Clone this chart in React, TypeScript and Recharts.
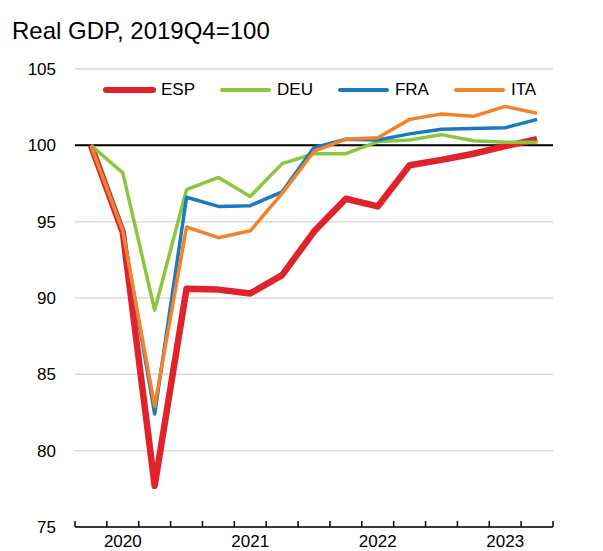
import React from 'react';
import { LineChart, Line, XAxis, YAxis, CartesianGrid, ReferenceLine } from 'recharts';

// quarterly real GDP, index 2019Q4 = 100
const quarters = [
  '2019Q4', '2020Q1', '2020Q2', '2020Q3', '2020Q4',
  '2021Q1', '2021Q2', '2021Q3', '2021Q4',
  '2022Q1', '2022Q2', '2022Q3', '2022Q4',
  '2023Q1', '2023Q2',
];
const esp = [100, 94.3, 77.7, 90.6, 90.55, 90.3, 91.5, 94.35, 96.5, 96.0, 98.7, 99.05, 99.45, 99.95, 100.4];
const deu = [100, 98.2, 89.2, 97.1, 97.9, 96.65, 98.8, 99.45, 99.45, 100.25, 100.35, 100.7, 100.3, 100.2, 100.2];
const fra = [100, 94.5, 82.4, 96.6, 96.0, 96.05, 96.95, 99.85, 100.4, 100.35, 100.75, 101.05, 101.1, 101.15, 101.7];
const ita = [100, 94.4, 82.9, 94.65, 93.95, 94.4, 96.85, 99.6, 100.4, 100.5, 101.7, 102.05, 101.9, 102.55, 102.1];
const yTicks = [75, 80, 85, 90, 95, 100, 105];

const series = [
  { key: 'ESP', values: esp, color: '#e0232b', width: 6.5 },
  { key: 'DEU', values: deu, color: '#8cc63f', width: 3.5 },
  { key: 'FRA', values: fra, color: '#1a7abf', width: 3.5 },
  { key: 'ITA', values: ita, color: '#f5822a', width: 3.5 },
];

const font = '"Liberation Sans", Arial, sans-serif';

const data = quarters.map((q, i) => {
  const row: any = { idx: i, q };
  series.forEach(s => { row[s.key] = s.values[i]; });
  return row;
});

// quarter boundaries get the small ticks, Q1 gets the year label
const boundaryTicks = [...quarters.map((_, i) => i - 0.5), quarters.length - 0.5];
const yearTicks = quarters.map((q, i) => (q.endsWith('Q1') ? i : -1)).filter(i => i >= 0);
const xDomain = [-0.5, quarters.length - 0.5];

const tickStyle = { fontSize: 17, fill: '#000', fontFamily: font };

export default function App() {
  return (
    <div style={{ position: 'absolute', left: 0, top: 0, width: 603, height: 551, background: '#fff', fontFamily: font }}>
      <div style={{ position: 'absolute', left: 12, top: 19, fontSize: 24, lineHeight: 1, color: '#000' }}>
        Real GDP, 2019Q4=100
      </div>
      <LineChart width={603} height={551} data={data} margin={{ top: 69, right: 0, bottom: 0, left: 0 }}>
        <CartesianGrid vertical={false} stroke="#d9d9d9" strokeWidth={1.5} yAxisId="left" />
        <XAxis
          xAxisId="q"
          dataKey="idx"
          type="number"
          domain={xDomain}
          ticks={boundaryTicks}
          tickFormatter={() => ''}
          tickSize={-6}
          height={1}
          axisLine={{ stroke: '#000', strokeWidth: 1.5 }}
          tickLine={{ stroke: '#000', strokeWidth: 1.5 }}
          interval={0}
        />
        <XAxis
          xAxisId="years"
          dataKey="idx"
          type="number"
          domain={xDomain}
          ticks={yearTicks}
          tickFormatter={(i: number) => quarters[i].slice(0, 4)}
          axisLine={false}
          tickLine={false}
          tickSize={0}
          tickMargin={7}
          height={23}
          tick={tickStyle}
          interval={0}
        />
        <YAxis
          yAxisId="left"
          type="number"
          domain={[75, 105]}
          ticks={yTicks}
          axisLine={false}
          tickLine={false}
          tickSize={0}
          tickMargin={19}
          width={75}
          tick={tickStyle}
          interval={0}
        />
        <YAxis
          yAxisId="right"
          orientation="right"
          type="number"
          domain={[75, 105]}
          ticks={yTicks}
          axisLine={false}
          tickLine={false}
          tickSize={0}
          tickMargin={19}
          width={50}
          tick={tickStyle}
          interval={0}
        />
        <ReferenceLine y={100} yAxisId="left" xAxisId="q" stroke="#000" strokeWidth={2} />
        {series.map(s => (
          <Line
            key={s.key}
            xAxisId="q"
            yAxisId="left"
            type="linear"
            dataKey={s.key}
            stroke={s.color}
            strokeWidth={s.width}
            strokeLinejoin="round"
            dot={false}
            activeDot={false}
            isAnimationActive={false}
          />
        ))}
      </LineChart>
      <div style={{ position: 'absolute', left: 102, top: 79, display: 'flex', alignItems: 'center', fontSize: 17, lineHeight: '22px' }}>
        {series.map(s => (
          <div key={s.key} style={{ display: 'flex', alignItems: 'center', marginRight: 23 }}>
            <svg width={55} height={10} style={{ marginRight: 4 }}>
              <line x1={4} y1={5} x2={51} y2={5} stroke={s.color} strokeWidth={s.key === 'ESP' ? 6 : 4} strokeLinecap="round" />
            </svg>
            <span>{s.key}</span>
          </div>
        ))}
      </div>
    </div>
  );
}
